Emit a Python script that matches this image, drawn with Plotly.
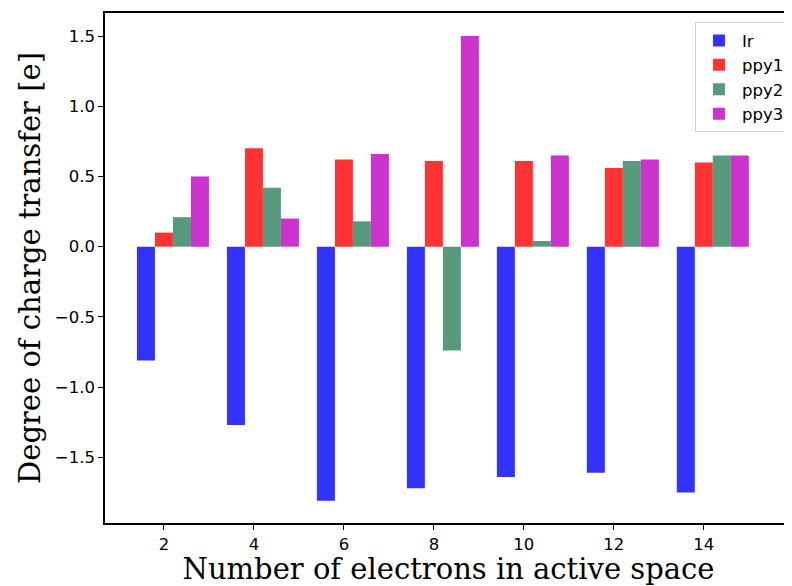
import plotly.graph_objects as go

electrons = [2, 4, 6, 8, 10, 12, 14]
ir_vals = [-0.81, -1.27, -1.81, -1.72, -1.64, -1.61, -1.75]
ppy1_vals = [0.10, 0.70, 0.62, 0.61, 0.61, 0.56, 0.60]
ppy2_vals = [0.21, 0.42, 0.18, -0.74, 0.04, 0.61, 0.65]
ppy3_vals = [0.50, 0.20, 0.66, 1.50, 0.65, 0.62, 0.65]
series_names = ["Ir", "ppy1", "ppy2", "ppy3"]
y_ticks = [-1.5, -1.0, -0.5, 0.0, 0.5, 1.0, 1.5]
y_ticktext = ["\u22121.5", "\u22121.0", "\u22120.5", "0.0", "0.5", "1.0", "1.5"]

colors = ["rgb(51,51,255)", "rgb(255,51,51)", "rgb(88,152,124)", "rgb(204,51,204)"]
offsets = [-0.6, -0.2, 0.2, 0.6]
series = [ir_vals, ppy1_vals, ppy2_vals, ppy3_vals]

fig = go.Figure()
for name, vals, col, off in zip(series_names, series, colors, offsets):
    fig.add_trace(go.Bar(
        x=electrons, y=vals, name=name, width=0.4, offset=off,
        marker=dict(color=col, line=dict(width=0)),
    ))

fig.update_layout(
    width=784, height=578,
    margin=dict(l=97, r=0, t=5, b=63),
    paper_bgcolor="white", plot_bgcolor="white",
    barmode="overlay",
    font=dict(family="DejaVu Sans", size=16.5, color="black"),
    legend=dict(
        x=0.997, y=0.982, xanchor="right", yanchor="top",
        bordercolor="rgb(210,210,210)", borderwidth=1,
        bgcolor="rgba(255,255,255,0.8)",
        font=dict(family="DejaVu Sans", size=16.5, color="black"),
        tracegroupgap=0, itemwidth=36,
    ),
    xaxis=dict(
        range=[0.69, 15.96],
        tickmode="array", tickvals=electrons,
        ticks="outside", ticklen=5, tickwidth=1.3, tickcolor="black",
        showline=True, linecolor="black", linewidth=1.5, mirror=True,
        showgrid=False, zeroline=False,
        tickfont=dict(family="DejaVu Sans", size=16.5),
        title=dict(text="Number of electrons in active space",
                   font=dict(family="DejaVu Serif", size=29), standoff=4),
    ),
    yaxis=dict(
        range=[-1.968, 1.664],
        tickmode="array", tickvals=y_ticks, ticktext=y_ticktext,
        ticks="outside", ticklen=5, tickwidth=1.3, tickcolor="black",
        showline=True, linecolor="black", linewidth=1.5, mirror=False,
        showgrid=False, zeroline=False,
        tickfont=dict(family="DejaVu Sans", size=16.5),
        title=dict(text="Degree of charge transfer [e]",
                   font=dict(family="DejaVu Serif", size=29), standoff=6),
    ),
)

fig.write_html("out.html")
